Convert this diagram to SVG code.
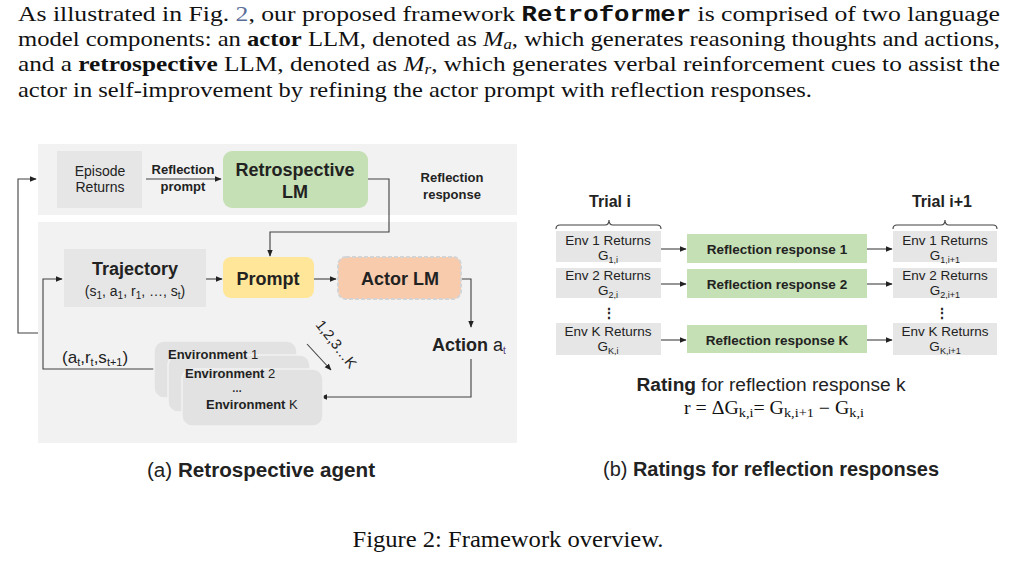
<svg xmlns="http://www.w3.org/2000/svg" width="1030" height="564" viewBox="0 0 1030 564">
<style>
.para{font-family:"Liberation Serif","Times New Roman",serif;font-size:22px;fill:#111}
.sans{font-family:"Liberation Sans",Arial,sans-serif;fill:#222}
.b{font-weight:bold}
.ln{fill:none;stroke:#404040;stroke-width:1.1}
.gray{fill:#e6e6e6}
.green{fill:#c5e0b4}
.env{fill:#e2e2e2;stroke:#f2f2f2;stroke-width:1.5}
.ser{font-family:"Liberation Serif","Times New Roman",serif;fill:#111}
</style>
<defs>
<marker id="ah" viewBox="0 0 10 10" refX="9" refY="5" markerWidth="7" markerHeight="7" orient="auto" markerUnits="userSpaceOnUse">
<path d="M0,1 L10,5 L0,9 z" fill="#222"/>
</marker>
</defs>
<rect width="1030" height="564" fill="#ffffff"/>

<!-- paragraph -->
<g id="paragraph">
<text class="para" x="18" y="21" textLength="982" lengthAdjust="spacingAndGlyphs">As illustrated in Fig. <tspan fill="#5a6e99">2</tspan>, our proposed framework <tspan font-family="'Liberation Mono','Courier New',monospace" font-weight="bold">Retroformer</tspan> is comprised of two language</text>
<text class="para" x="18" y="46" textLength="982" lengthAdjust="spacingAndGlyphs">model components: an <tspan font-weight="bold">actor</tspan> LLM, denoted as <tspan font-style="italic">M</tspan><tspan font-style="italic" font-size="15" dy="3">a</tspan><tspan dy="-3">, which generates reasoning thoughts and actions,</tspan></text>
<text class="para" x="18" y="71" textLength="982" lengthAdjust="spacingAndGlyphs">and a <tspan font-weight="bold">retrospective</tspan> LLM, denoted as <tspan font-style="italic">M</tspan><tspan font-style="italic" font-size="15" dy="3">r</tspan><tspan dy="-3">, which generates verbal reinforcement cues to assist the</tspan></text>
<text class="para" x="18" y="97" textLength="794" lengthAdjust="spacingAndGlyphs">actor in self-improvement by refining the actor prompt with reflection responses.</text>
</g>

<!-- panels -->
<g id="panels">
<rect x="38" y="144" width="479" height="71" fill="#f2f2f2"/>
<rect x="38" y="222" width="479" height="221" fill="#f2f2f2"/>
</g>

<!-- connectors -->
<g id="connectors">
<path class="ln" d="M38,333 H18 V179 H36" marker-end="url(#ah)"/>
<path class="ln" d="M146,179 H221" marker-end="url(#ah)"/>
<path class="ln" d="M368,179 H389 V232 H270 V256" marker-end="url(#ah)"/>
<path class="ln" d="M154,369 H43 V279 H62" marker-end="url(#ah)"/>
<path class="ln" d="M206,279 H222" marker-end="url(#ah)"/>
<path class="ln" d="M314,279 H336" marker-end="url(#ah)"/>
<path class="ln" d="M462,279 H471 V327" marker-end="url(#ah)"/>
<path class="ln" d="M471,359 V397 H321" marker-end="url(#ah)"/>
<path class="ln" d="M307,344 L331,370" marker-end="url(#ah)"/>
<path class="ln" d="M661,249 H686" marker-end="url(#ah)"/>
<path class="ln" d="M661,284 H686" marker-end="url(#ah)"/>
<path class="ln" d="M661,340 H686" marker-end="url(#ah)"/>
<path class="ln" d="M867,249 H892" marker-end="url(#ah)"/>
<path class="ln" d="M867,284 H892" marker-end="url(#ah)"/>
<path class="ln" d="M867,340 H892" marker-end="url(#ah)"/>
</g>

<g id="episode-returns">
<rect class="gray" x="57" y="151" width="85" height="57"/>
<text class="sans" font-size="14" text-anchor="middle" x="100" y="176" fill="#333">Episode</text>
<text class="sans" font-size="14" text-anchor="middle" x="100" y="192" fill="#333">Returns</text>
</g>
<g id="reflection-prompt-label">
<text class="sans b" font-size="13" text-anchor="middle" x="183" y="174">Reflection</text>
<text class="sans b" font-size="13" text-anchor="middle" x="183" y="191">prompt</text>
</g>
<g id="retrospective-lm">
<rect class="green" x="223" y="151" width="145" height="57" rx="9"/>
<text class="sans b" font-size="18" text-anchor="middle" x="295" y="176">Retrospective</text>
<text class="sans b" font-size="18" text-anchor="middle" x="295" y="198">LM</text>
</g>
<g id="reflection-response-label">
<text class="sans b" font-size="13" text-anchor="middle" x="452" y="182">Reflection</text>
<text class="sans b" font-size="13" text-anchor="middle" x="452" y="199">response</text>
</g>
<g id="trajectory">
<rect class="gray" x="64" y="249" width="142" height="58"/>
<text class="sans b" font-size="18" text-anchor="middle" x="135" y="275">Trajectory</text>
<text class="sans" font-size="14" text-anchor="middle" x="135" y="296">(s<tspan font-size="10" dy="3">1</tspan><tspan dy="-3">, a</tspan><tspan font-size="10" dy="3">1</tspan><tspan dy="-3">, r</tspan><tspan font-size="10" dy="3">1</tspan><tspan dy="-3">, …, s</tspan><tspan font-size="10" dy="3">t</tspan><tspan dy="-3">)</tspan></text>
</g>
<g id="prompt">
<rect x="223" y="257" width="91" height="41" rx="8" fill="#ffe699"/>
<text class="sans b" font-size="18" text-anchor="middle" x="268" y="285">Prompt</text>
</g>
<g id="actor-lm">
<rect x="338" y="257" width="123" height="42" rx="8" fill="#f8cbad" stroke="#d4d4d4" stroke-width="2" stroke-dasharray="4 2"/>
<text class="sans b" font-size="18" text-anchor="middle" x="400" y="285">Actor LM</text>
</g>
<g id="action">
<text class="sans" font-size="18" x="432" y="351"><tspan font-weight="bold">Action</tspan> a<tspan font-size="10" dy="3" fill="#5a3d80">t</tspan></text>
</g>
<g id="observation-label">
<text class="sans" font-size="17" x="62" y="363">(a<tspan font-size="11" dy="3">t</tspan><tspan dy="-3">,r</tspan><tspan font-size="11" dy="3">t</tspan><tspan dy="-3">,s</tspan><tspan font-size="11" dy="3">t+1</tspan><tspan dy="-3">)</tspan></text>
</g>
<g id="environments">
<rect class="env" x="154" y="341" width="143" height="57" rx="10"/>
<rect class="env" x="168" y="355" width="142" height="57" rx="10"/>
<rect class="env" x="182" y="369" width="141" height="57" rx="10"/>
<text class="sans" font-size="13" x="168" y="359"><tspan font-weight="bold">Environment</tspan> 1</text>
<text class="sans" font-size="13" x="185" y="378"><tspan font-weight="bold">Environment</tspan> 2</text>
<text class="sans b" font-size="10" x="232" y="392">…</text>
<text class="sans" font-size="13" x="206" y="409"><tspan font-weight="bold">Environment</tspan> K</text>
</g>
<g id="k-label">
<text class="sans" font-size="14.5" transform="translate(315,325) rotate(52)">1,2,3…K</text>
</g>
<g id="caption-a">
<text class="sans" font-size="20" text-anchor="middle" x="261" y="477" textLength="228" lengthAdjust="spacingAndGlyphs">(a) <tspan font-weight="bold">Retrospective agent</tspan></text>
</g>

<!-- right panel -->
<g id="trial-i">
<text class="sans b" font-size="16" text-anchor="middle" x="610" y="207">Trial i</text>
<path class="ln" d="M556,229 Q556,225 560,225 H605 Q609,225 609,220 Q609,225 613,225 H657 Q661,225 661,229"/>
</g>
<g id="trial-i1">
<text class="sans b" font-size="16" text-anchor="middle" x="942" y="207">Trial i+1</text>
<path class="ln" d="M893,229 Q893,225 897,225 H941 Q945,225 945,220 Q945,225 949,225 H993 Q997,225 997,229"/>
</g>

<g id="env1-i">
<rect class="gray" x="556" y="231" width="105" height="31"/>
<text class="sans" font-size="13.5" text-anchor="middle" x="608" y="245" fill="#333">Env 1 Returns</text>
<text class="sans" font-size="13.5" text-anchor="middle" x="608" y="260" fill="#333">G<tspan font-size="9" dy="3">1,i</tspan></text>
</g>
<g id="env2-i">
<rect class="gray" x="556" y="268" width="105" height="30"/>
<text class="sans" font-size="13.5" text-anchor="middle" x="608" y="280" fill="#333">Env 2 Returns</text>
<text class="sans" font-size="13.5" text-anchor="middle" x="608" y="295" fill="#333">G<tspan font-size="9" dy="3">2,i</tspan></text>
</g>
<g id="dots-i">
<text class="sans b" font-size="14" text-anchor="middle" x="609" y="318" fill="#333">⋮</text>
</g>
<g id="envk-i">
<rect class="gray" x="556" y="323" width="105" height="32"/>
<text class="sans" font-size="13.5" text-anchor="middle" x="608" y="336" fill="#333">Env K Returns</text>
<text class="sans" font-size="13.5" text-anchor="middle" x="608" y="351" fill="#333">G<tspan font-size="9" dy="3">K,i</tspan></text>
</g>

<g id="rr1">
<rect class="green" x="687" y="234" width="180" height="29"/>
<text class="sans b" font-size="13.5" text-anchor="middle" x="777" y="254">Reflection response 1</text>
</g>
<g id="rr2">
<rect class="green" x="687" y="269" width="180" height="29"/>
<text class="sans b" font-size="13.5" text-anchor="middle" x="777" y="289">Reflection response 2</text>
</g>
<g id="rrk">
<rect class="green" x="687" y="325" width="180" height="28"/>
<text class="sans b" font-size="13.5" text-anchor="middle" x="777" y="345">Reflection response K</text>
</g>

<g id="env1-i1">
<rect class="gray" x="893" y="231" width="104" height="31"/>
<text class="sans" font-size="13.5" text-anchor="middle" x="945" y="245" fill="#333">Env 1 Returns</text>
<text class="sans" font-size="13.5" text-anchor="middle" x="945" y="260" fill="#333">G<tspan font-size="9" dy="3">1,i+1</tspan></text>
</g>
<g id="env2-i1">
<rect class="gray" x="893" y="268" width="104" height="30"/>
<text class="sans" font-size="13.5" text-anchor="middle" x="945" y="280" fill="#333">Env 2 Returns</text>
<text class="sans" font-size="13.5" text-anchor="middle" x="945" y="295" fill="#333">G<tspan font-size="9" dy="3">2,i+1</tspan></text>
</g>
<g id="dots-i1">
<text class="sans b" font-size="14" text-anchor="middle" x="942" y="318" fill="#333">⋮</text>
</g>
<g id="envk-i1">
<rect class="gray" x="893" y="323" width="104" height="32"/>
<text class="sans" font-size="13.5" text-anchor="middle" x="945" y="336" fill="#333">Env K Returns</text>
<text class="sans" font-size="13.5" text-anchor="middle" x="945" y="351" fill="#333">G<tspan font-size="9" dy="3">K,i+1</tspan></text>
</g>

<g id="rating">
<text class="sans" font-size="18" text-anchor="middle" x="771" y="391" textLength="269" lengthAdjust="spacingAndGlyphs"><tspan font-weight="bold">Rating</tspan> for reflection response k</text>
<text class="ser" font-size="18" text-anchor="middle" x="774" y="414" textLength="180" lengthAdjust="spacingAndGlyphs">r = ΔG<tspan font-size="13" dy="3">k,i</tspan><tspan dy="-3">= G</tspan><tspan font-size="13" dy="3">k,i+1</tspan><tspan dy="-3"> − G</tspan><tspan font-size="13" dy="3">k,i</tspan></text>
</g>
<g id="caption-b">
<text class="sans" font-size="20" text-anchor="middle" x="771" y="476" textLength="336" lengthAdjust="spacingAndGlyphs">(b) <tspan font-weight="bold">Ratings for reflection responses</tspan></text>
</g>
<g id="figure-caption">
<text class="ser" font-size="24" text-anchor="middle" x="508" y="547" textLength="311" lengthAdjust="spacingAndGlyphs">Figure 2: Framework overview.</text>
</g>
</svg>
